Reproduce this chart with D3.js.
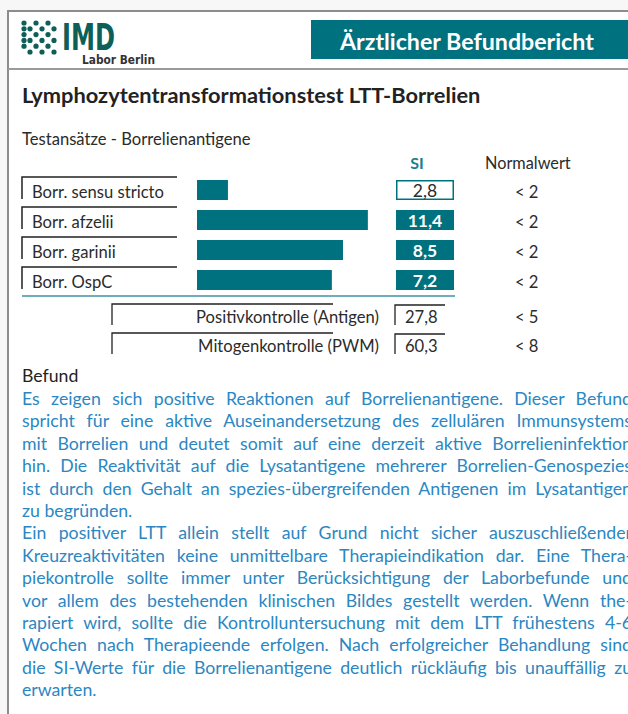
<!DOCTYPE html>
<html>
<head>
<meta charset="utf-8">
<script src="https://cdn.jsdelivr.net/npm/d3@7"></script>
<style>
  html, body { margin: 0; padding: 0; }
  body { width: 628px; height: 714px; overflow: hidden; position: relative; background: #f7f7f7; font-family: Lato, "Open Sans", sans-serif; }
  svg { position: absolute; left: 0; top: 0; }
  .para-line { position: absolute; left: 22px; width: 610px; white-space: nowrap; font-size: 17.7px; line-height: 20px; color: #2b87c2; text-align: justify; text-align-last: justify; }
  .para-line.last { text-align-last: left; }
</style>
</head>
<body>
<div id="chart"></div>
<script>
// test rows
const categories = ['Borr. sensu stricto', 'Borr. afzelii', 'Borr. garinii', 'Borr. OspC'];
const siValues = [2.8, 11.4, 8.5, 7.2];
const normalValues = ['< 2', '< 2', '< 2', '< 2'];

// control rows
const controlLabels = ['Positivkontrolle (Antigen)', 'Mitogenkontrolle (PWM)'];
const controlValues = [27.8, 60.3];
const controlNormals = ['< 5', '< 8'];

// report text, one entry per printed line (false = justified, true = paragraph end)
const befundLines = [
  ['Es zeigen sich positive Reaktionen auf Borrelienantigene. Dieser Befund', false],
  ['spricht für eine aktive Auseinandersetzung des zellulären Immunsystems', false],
  ['mit Borrelien und deutet somit auf eine derzeit aktive Borrelieninfektion', false],
  ['hin. Die Reaktivität auf die Lysatantigene mehrerer Borrelien-Genospezies', false],
  ['ist durch den Gehalt an spezies-übergreifenden Antigenen im Lysatantigen', false],
  ['zu begründen.', true],
  ['Ein positiver LTT allein stellt auf Grund nicht sicher auszuschließender', false],
  ['Kreuzreaktivitäten keine unmittelbare Therapieindikation dar. Eine Thera-', false],
  ['piekontrolle sollte immer unter Berücksichtigung der Laborbefunde und', false],
  ['vor allem des bestehenden klinischen Bildes gestellt werden. Wenn the-', false],
  ['rapiert wird, sollte die Kontrolluntersuchung mit dem LTT frühestens 4-6', false],
  ['Wochen nach Therapieende erfolgen. Nach erfolgreicher Behandlung sind', false],
  ['die SI-Werte für die Borrelienantigene deutlich rückläufig bis unauffällig zu', false],
  ['erwarten.', true]
];

const width = 628, height = 714;
const teal = '#00717f', logoTeal = '#0d5f58', ink = '#2b2b2b';
const de = d3.formatLocale({ decimal: ',', thousands: '.', grouping: [3], currency: ['', '€'] });
const fmt = de.format('.1f');

const svg = d3.select('#chart').append('svg')
  .attr('width', width)
  .attr('height', height)
  .style('font-family', 'Lato, "Open Sans", sans-serif');

// page frame
svg.append('rect').attr('x', 8).attr('y', 11).attr('width', width).attr('height', height).attr('fill', '#fff');
svg.append('line').attr('x1', 8).attr('x2', width).attr('y1', 11).attr('y2', 11).attr('stroke', '#8c8c8c').attr('stroke-width', 2);
svg.append('line').attr('x1', 8).attr('x2', 8).attr('y1', 10).attr('y2', height).attr('stroke', '#8c8c8c').attr('stroke-width', 2);
svg.append('line').attr('x1', 8).attr('x2', width).attr('y1', 69).attr('y2', 69).attr('stroke', '#9a9a9a').attr('stroke-width', 2);

// logo
const dots = d3.range(36).map(i => ({ r: Math.floor(i / 6), c: i % 6 })).filter(d => (d.r + d.c) % 2 === 0 || (d.r === 1 && d.c === 0) || (d.r === 3 && d.c === 0));
svg.append('g').selectAll('circle').data(dots).join('circle')
  .attr('cx', d => 24 + d.c * 6)
  .attr('cy', d => 23 + d.r * 5.8)
  .attr('r', 2.6)
  .attr('fill', logoTeal);
svg.append('text').attr('x', 62).attr('y', 50)
  .attr('font-family', '"DejaVu Sans Condensed", "DejaVu Sans", sans-serif').attr('font-weight', 'bold')
  .attr('font-size', 37).attr('fill', logoTeal)
  .attr('textLength', 53).attr('lengthAdjust', 'spacingAndGlyphs')
  .text('IMD');
svg.append('text').attr('x', 82).attr('y', 63.5)
  .attr('font-family', '"DejaVu Sans Condensed", "DejaVu Sans", sans-serif').attr('font-weight', 'bold')
  .attr('font-size', 11.5).attr('fill', '#333')
  .attr('textLength', 73).attr('lengthAdjust', 'spacingAndGlyphs')
  .text('Labor Berlin');

// title box
svg.append('rect').attr('x', 311).attr('y', 20).attr('width', width - 311).attr('height', 39).attr('fill', teal);
svg.append('text').attr('x', 340).attr('y', 50)
  .attr('font-size', 23.2).attr('font-weight', 'bold').attr('fill', '#fff')
  .text('Ärztlicher Befundbericht');

// headings
svg.append('text').attr('x', 22).attr('y', 103)
  .attr('font-size', 21.8).attr('font-weight', 'bold').attr('fill', '#222')
  .text('Lymphozytentransformationstest LTT-Borrelien');
svg.append('text').attr('x', 22).attr('y', 145)
  .attr('font-size', 16.6).attr('fill', ink)
  .text('Testansätze - Borrelienantigene');
svg.append('text').attr('x', 417).attr('y', 169).attr('text-anchor', 'middle')
  .attr('font-size', 16).attr('font-weight', 'bold').attr('fill', '#1a7f8e')
  .text('SI');
svg.append('text').attr('x', 485).attr('y', 169)
  .attr('font-size', 16.3).attr('fill', ink)
  .text('Normalwert');

// scales
const y = d3.scaleBand().domain(categories).range([177, 297]);
const x = d3.scaleLinear().domain([2, 5, 12]).range([197, 313, 373]).clamp(true);

const rows = svg.append('g').selectAll('g.row')
  .data(categories.map((c, i) => ({ name: c, si: siValues[i], norm: normalValues[i] })))
  .join('g').attr('class', 'row')
  .attr('transform', d => `translate(0,${y(d.name)})`);

rows.append('path')
  .attr('d', 'M22,22V0H177')
  .attr('fill', 'none').attr('stroke', '#222').attr('stroke-width', 1.5);
rows.append('text').attr('x', 32).attr('y', 21)
  .attr('font-size', 16.6).attr('fill', ink)
  .text(d => d.name);
rows.append('rect')
  .attr('x', x(2)).attr('y', 3)
  .attr('width', d => x(d.si) - x(2)).attr('height', 20)
  .attr('fill', teal);

const positive = d => d.si >= 5;
rows.append('rect')
  .attr('x', d => positive(d) ? 396 : 396.75).attr('y', d => positive(d) ? 3 : 3.75)
  .attr('width', d => positive(d) ? 58 : 56.5).attr('height', d => positive(d) ? 20 : 18.5)
  .attr('fill', d => positive(d) ? teal : '#fff')
  .attr('stroke', d => positive(d) ? 'none' : teal).attr('stroke-width', 1.5);
rows.append('text').attr('x', 425).attr('y', 19.5).attr('text-anchor', 'middle')
  .attr('font-size', 17.5)
  .attr('font-weight', d => positive(d) ? 'bold' : 'normal')
  .attr('fill', d => positive(d) ? '#fff' : ink)
  .text(d => fmt(d.si));
rows.append('text').attr('x', 515).attr('y', 21)
  .attr('font-size', 16.6).attr('fill', ink)
  .text(d => d.norm);

// separator
svg.append('line').attr('x1', 22).attr('x2', 455).attr('y1', 296).attr('y2', 296)
  .attr('stroke', '#3c93a3').attr('stroke-width', 1.6);

// control rows
const yc = d3.scaleBand().domain(controlLabels).range([304, 362]);
const ctrl = svg.append('g').selectAll('g.ctrl')
  .data(controlLabels.map((c, i) => ({ name: c, v: controlValues[i], norm: controlNormals[i] })))
  .join('g').attr('class', 'ctrl')
  .attr('transform', d => `translate(0,${yc(d.name)})`);
ctrl.append('path').attr('d', 'M112,21V0H333')
  .attr('fill', 'none').attr('stroke', '#222').attr('stroke-width', 1.3);
ctrl.append('path').attr('d', 'M395,21V1H445')
  .attr('fill', 'none').attr('stroke', '#222').attr('stroke-width', 1.3);
ctrl.append('text').attr('x', 379).attr('y', 18.5).attr('text-anchor', 'end')
  .attr('font-size', 16.6).attr('fill', ink)
  .text(d => d.name);
ctrl.append('text').attr('x', 405).attr('y', 18.5)
  .attr('font-size', 16.6).attr('fill', ink)
  .text(d => fmt(d.v));
ctrl.append('text').attr('x', 515).attr('y', 18.5)
  .attr('font-size', 16.6).attr('fill', ink)
  .text(d => d.norm);

// Befund
svg.append('text').attr('x', 22).attr('y', 382)
  .attr('font-size', 17.7).attr('fill', '#222')
  .text('Befund');

const lineHeight = 22.4;
d3.select('body').selectAll('div.para-line')
  .data(befundLines)
  .join('div')
  .attr('class', d => d[1] ? 'para-line last' : 'para-line')
  .style('top', (d, i) => (389 + i * lineHeight) + 'px')
  .text(d => d[0]);
</script>
</body>
</html>
